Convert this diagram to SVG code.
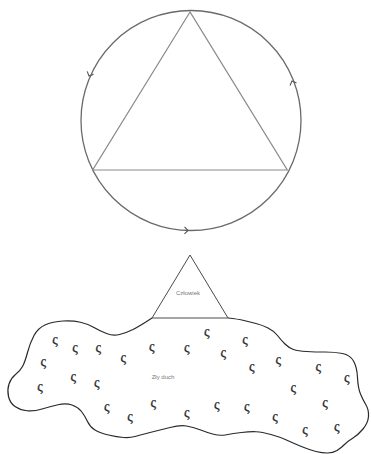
<svg xmlns="http://www.w3.org/2000/svg" width="371" height="454" viewBox="0 0 371 454">
<style>
.circ{fill:none;stroke:#6a6a6a;stroke-width:1.3}
.tri{fill:none;stroke:#8a8a8a;stroke-width:1.2}
.blob{fill:none;stroke:#2a2a2a;stroke-width:1.2}
.small{fill:none;stroke:#4a4a4a;stroke-width:1}
.chev{fill:none;stroke:#555;stroke-width:1.1}
.lbl{font-family:"Liberation Sans",Arial,sans-serif;font-size:6px;fill:#777;text-anchor:middle}
.sg{font-family:"Liberation Serif","DejaVu Serif",serif;font-size:14px;fill:#2a2a2a;stroke:#2a2a2a;stroke-width:0.25;text-anchor:middle}
</style>
<defs>
<path id="chev" d="M-3.5,-3.5 L0,0 L-3.5,3.5" class="chev"/>
</defs>
<g id="circle">
<circle class="circ" cx="191" cy="120.5" r="110"/>
</g>
<g id="big-triangle">
<path class="tri" d="M190,12 L92.7,170 L287.3,170 Z"/>
</g>
<g id="connectors">
<use href="#chev" transform="translate(89,76) rotate(113.6)"/>
<use href="#chev" transform="translate(292,81) rotate(248.6)"/>
<use href="#chev" transform="translate(188,230.5) rotate(1)"/>
</g>
<g id="czlowiek">
<path class="small" d="M190,255 L152,318 L228,318 Z"/>
<text class="lbl" x="188" y="295">Człowiek</text>
</g>
<g id="zly-duch">
<path class="blob" d="M152,318 Q140,326 133,329.5 Q126,333 119.5,334.5 Q113,336 106.5,333.5 Q100,331 94,327.5 Q88,324 80.5,322.25 Q73,320.5 63,321 Q53,321.5 45.5,324.75 Q38,328 34,335.5 Q30,343 27.5,352.5 Q25,362 22.5,366.5 Q20,371 15.5,374.5 Q11,378 9,384 Q7,390 8.5,396.5 Q10,403 15,406.5 Q20,410 27,410.75 Q34,411.5 42,409 Q50,406.5 58,404.75 Q66,403 72,405 Q78,407 81.5,411.5 Q85,416 87.5,421.5 Q90,427 95,430 Q100,433 108.5,435 Q117,437 123.5,437.5 Q130,438 135,436.5 Q140,435 150,432.5 Q160,430 170,427.5 Q180,425 186.5,426 Q193,427 200,429.75 Q207,432.5 213.5,434.25 Q220,436 226.5,434.75 Q233,433.5 241.5,432.5 Q250,431.5 256,431.75 Q262,432 271,434.5 Q280,437 287,440.25 Q294,443.5 302,446.75 Q310,450 316,451.5 Q322,453 327.5,453 Q333,453 337,450.5 Q341,448 344.5,444.5 Q348,441 353,438 Q358,435 363,429 Q368,423 368.5,416.5 Q369,410 366,405 Q363,400 360.5,394 Q358,388 357.5,377.5 Q357,367 353.5,361 Q350,355 342.5,353.5 Q335,352 325,352 Q315,352 306.5,351.5 Q298,351 293.5,349.5 Q289,348 285,344 Q281,340 277.5,335.5 Q274,331 268,328 Q262,325 256,323.5 Q250,322 244,320.5 Q238,319 228,318"/>
<text class="lbl" x="163" y="379">Zły duch</text>
<g class="sg">
<text x="55" y="343.5">ς</text>
<text x="75" y="352">ς</text>
<text x="98.3" y="352">ς</text>
<text x="123.3" y="362">ς</text>
<text x="151.7" y="350.5">ς</text>
<text x="186.7" y="352">ς</text>
<text x="206.7" y="335.5">ς</text>
<text x="223.3" y="357">ς</text>
<text x="245" y="343.5">ς</text>
<text x="43.3" y="365.5">ς</text>
<text x="40" y="390.5">ς</text>
<text x="73.3" y="380.5">ς</text>
<text x="96.7" y="387">ς</text>
<text x="251.7" y="370.5">ς</text>
<text x="278.3" y="363.5">ς</text>
<text x="318.3" y="370.5">ς</text>
<text x="346.7" y="382">ς</text>
<text x="293.3" y="392">ς</text>
<text x="106.7" y="410.5">ς</text>
<text x="130" y="420.5">ς</text>
<text x="153.3" y="407">ς</text>
<text x="186.7" y="417">ς</text>
<text x="216.7" y="408.5">ς</text>
<text x="246.7" y="410.5">ς</text>
<text x="275" y="420.5">ς</text>
<text x="325" y="407">ς</text>
<text x="305" y="433.5">ς</text>
<text x="336.7" y="430.5">ς</text>
</g>
</g>
</svg>
